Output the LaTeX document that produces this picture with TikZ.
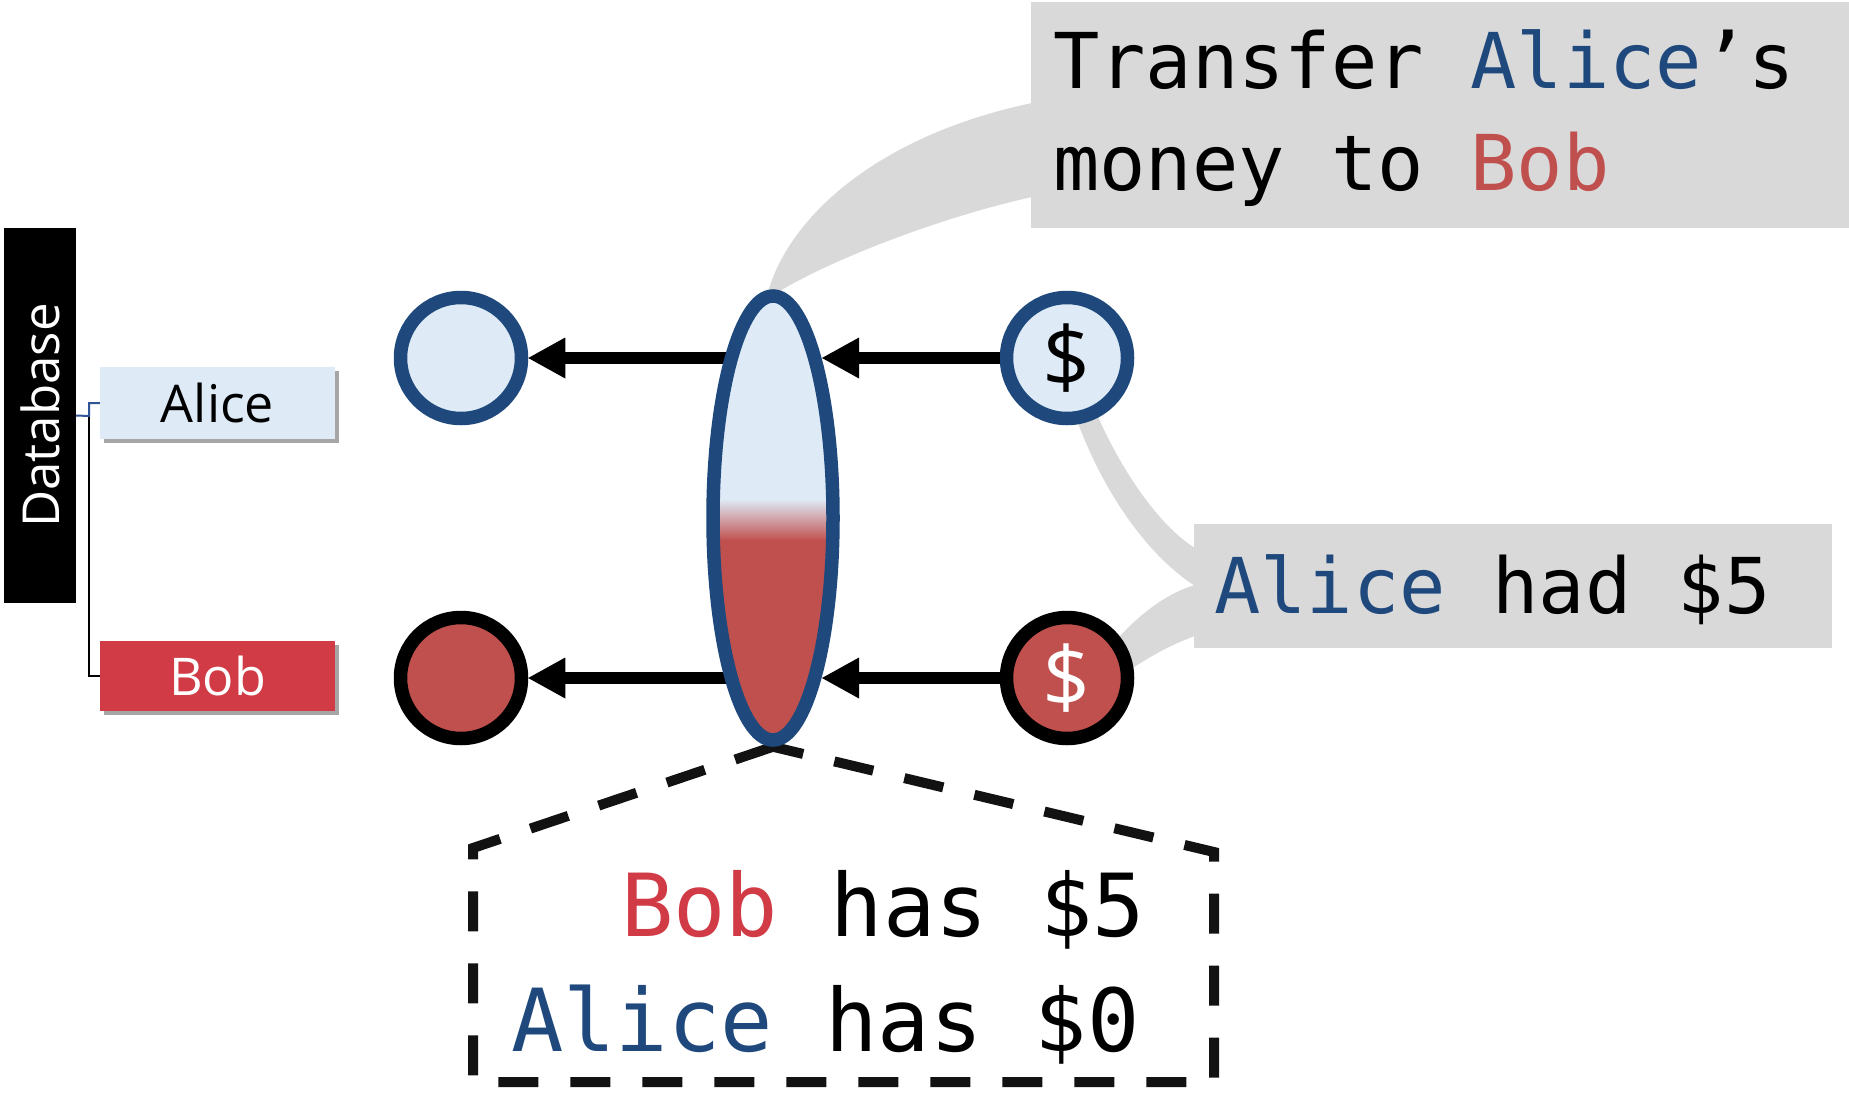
\documentclass[tikz,border=0pt]{standalone}
\usepackage{fontspec}
\setmainfont{Open Sans}
\newfontfamily\monof{DejaVu Sans Mono}
\usetikzlibrary{arrows.meta,shapes.geometric,shadows}
\definecolor{dblue}{RGB}{31,73,125}
\definecolor{lblue}{RGB}{222,235,247}
\definecolor{redf}{RGB}{192,80,77}
\definecolor{bobred}{RGB}{208,59,69}
\definecolor{tgray}{RGB}{217,217,217}
\definecolor{dbline}{RGB}{47,85,151}
\pgfdeclarelayer{bg}
\pgfsetlayers{bg,main}
\begin{document}
\begin{tikzpicture}[x=1pt,y=-1pt,
  lbl/.style={rectangle, inner sep=0pt, minimum width=235pt, font=\fontsize{52}{52}\selectfont,
    drop shadow={shadow xshift=4pt, shadow yshift=-4pt, opacity=0.35, fill=black}},
  coin/.style={circle, line width=13.5pt, minimum size=121pt, inner sep=0pt, font=\fontsize{84}{84}\selectfont},
  gbox/.style={rectangle, fill=tgray, inner sep=0pt, anchor=north west},
  txt/.style={inner sep=0pt, anchor=base west, font=\monof\fontsize{77}{77}\selectfont},
  ztxt/.style={inner sep=0pt, anchor=base west, font=\monof\fontsize{87}{87}\selectfont},
  arr/.style={line width=11.5pt, -{Triangle[length=37pt,width=41pt,line width=0pt]}}
]
\useasboundingbox (0,0) rectangle (1849,1092);

% left database part
\node[rectangle, fill=black, minimum width=72pt, minimum height=375pt, inner sep=0pt] (db) at (40,415.5) {};
\node[rotate=90, text=white, inner sep=0pt, font=\fontsize{51}{51}\selectfont] (dbt) at (db.center) {Database};
\node[lbl, fill=lblue, minimum height=72pt] (alice) at (217.5,403) {Alice};
\node[lbl, fill=bobred, text=white, minimum height=70pt] (bob) at (217.5,676) {Bob};
\coordinate (j) at (89,416);
\draw[line width=2pt, black] (j |- alice.west) |- (bob.west);
\draw[line width=2pt, dbline] (db.east) -- (j) |- (alice.west);

% circles
\node[coin, draw=dblue, fill=lblue] (lA) at (461,358) {};
\node[coin, draw=black, fill=redf] (lB) at (461,678) {};
\node[coin, draw=dblue, fill=lblue] (rA) at (1067,358) {\$};
\node[coin, draw=black, fill=redf, text=white] (rB) at (1067,678) {\$};

% gray callout boxes
\node[gbox, minimum width=818pt, minimum height=226pt] (tbox) at (1031,2) {};
\node[txt] (t1) at (1053,88) {Transfer \textcolor{dblue}{Alice}’s};
\node[txt] (t2) at (1053,190) {money to \textcolor{redf}{Bob}};
\node[gbox, minimum width=638pt, minimum height=124pt] (hbox) at (1194,524) {};
\node[txt] (h1) at (1214,613) {\textcolor{dblue}{Alice} had \$5};

% ellipse
\coordinate (ec) at (773,518);
\begin{scope}
  \clip (ec) ellipse [x radius=60, y radius=222];
  \fill[lblue] (700,280) rectangle (850,500);
  \shade[top color=lblue, bottom color=redf] (700,499) rectangle (850,541);
  \fill[redf] (700,540) rectangle (850,760);
\end{scope}
\node[ellipse, draw=dblue, line width=13.5pt, minimum width=120pt, minimum height=444pt, inner sep=0pt] (ell) at (ec) {};

\coordinate (tipA) at (822,358);
\coordinate (tipB) at (822,678);
\draw[arr] (rA) -- (tipA);
\draw[arr] (rB) -- (tipB);

% zoom text
\node[ztxt] (z1) at (621,936) {\textcolor{bobred}{Bob} has \$5};
\node[ztxt] (z2) at (511,1051) {\textcolor{dblue}{Alice} has \$0};

\begin{pgfonlayer}{bg}
  \fill[tgray] (768,292) .. controls (790,215) and (880,135) .. (1032,103)
    -- (1032,197) .. controls (950,215) and (840,255) .. (778,292) -- cycle;
  \fill[tgray] (1075,415) .. controls (1098,480) and (1140,550) .. (1195,586)
    -- (1195,548) .. controls (1165,530) and (1125,480) .. (1095,410) -- cycle;
  \fill[tgray] (1112,645) .. controls (1140,612) and (1170,592) .. (1195,585)
    -- (1195,636) .. controls (1170,645) and (1148,657) .. (1118,678) -- cycle;
  \draw[line width=10pt, dash pattern=on 40pt off 32pt, black!93]
    (ell.south) -- (473,848) -- (473,1082) -- (1214,1082) -- (1214,852) -- cycle;
  \draw[arr] (ec |- lA) -- (lA);
  \draw[arr] (ec |- lB) -- (lB);
\end{pgfonlayer}
\end{tikzpicture}
\end{document}
